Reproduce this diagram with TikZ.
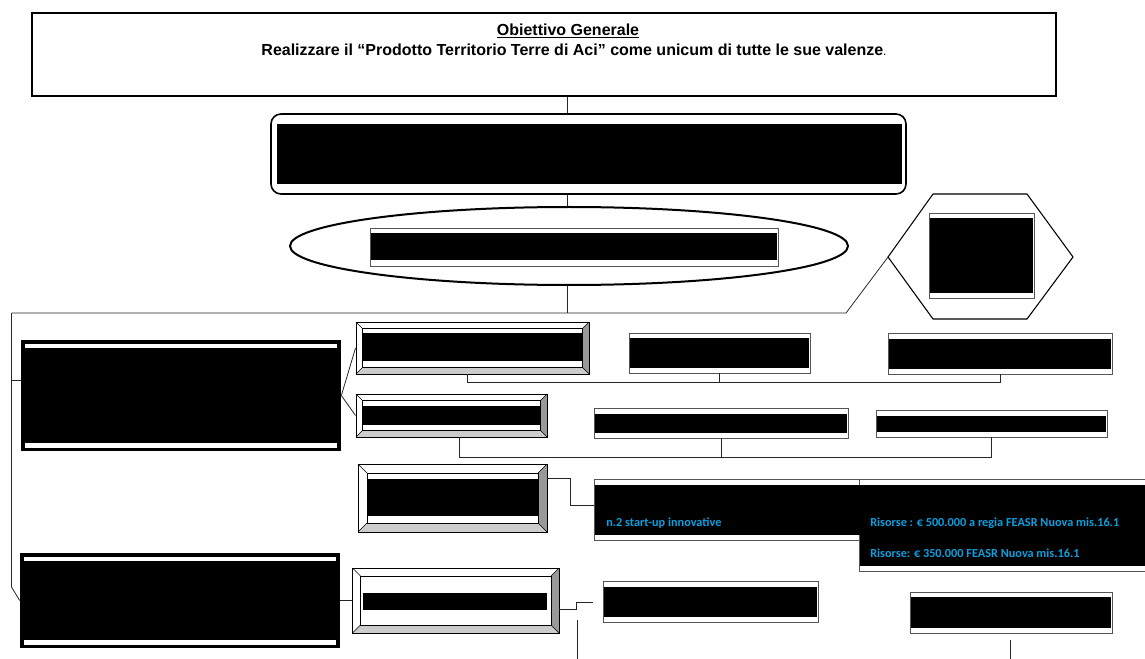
\documentclass[tikz,border=0pt]{standalone}
\usepackage{fontspec}
\setmainfont{Liberation Sans}
\newfontfamily\calibrifont{Carlito}
\usetikzlibrary{fit,shapes.geometric}
\definecolor{bluetxt}{HTML}{0AA0E0}
\definecolor{bevdark}{HTML}{999999}
\definecolor{bevlight}{HTML}{CCCCCC}
\definecolor{thinedge}{HTML}{555555}
\tikzset{
  thinbox/.style={draw=thinedge, line width=0.6pt, fill=white, inner sep=0pt},
  bevel/.style={draw=black, line width=0.7pt, inner sep=0pt},
  bigblack/.style={draw=black, fill=black, line width=2pt, inner sep=0pt},
  conn/.style={draw=black!85, line width=0.6pt},
  bluelabel/.style={anchor=west, inner sep=0pt, text=bluetxt, font=\calibrifont\bfseries\fontsize{9.2pt}{11pt}\selectfont},
}
% bevelled box: name, x1, y1, x2, y2, bevel
\newcommand\bevelbox[6]{%
  \fill[white] (#2,#3) rectangle (#4,#5);
  \fill[bevdark] (#4,#3) -- (#4,#5) -- (#4-#6,#5-#6) -- (#4-#6,#3+#6) -- cycle;
  \fill[bevlight] (#2,#5) -- (#4,#5) -- (#4-#6,#5-#6) -- (#2+#6,#5-#6) -- cycle;
  \draw[line width=0.5pt] (#2,#3) -- (#2+#6,#3+#6) (#4,#3) -- (#4-#6,#3+#6)
        (#2,#5) -- (#2+#6,#5-#6) (#4,#5) -- (#4-#6,#5-#6);
  \draw[line width=0.6pt] (#2+#6,#3+#6) rectangle (#4-#6,#5-#6);
  \node[bevel, fit={(#2,#3)(#4,#5)}] (#1) {};
}
% thin box with black band: name, x1, y1, x2, y2, band y1, band y2
\newcommand\stripebox[7]{%
  \node[thinbox, fit={(#2,#3)(#4,#5)}] (#1) {};
  \fill[black] (#2+0.7,#6) rectangle (#4-0.7,#7);
}
% thick black box with white stripes: name, x1, y1, x2, y2
\newcommand\blackbox[5]{%
  \node[bigblack, fit={(#2,#3)(#4,#5)}] (#1) {};
  \fill[white] (#2+3,#3+2.5) rectangle (#4-3,#3+6.5);
  \fill[white] (#2+3,#5-7) rectangle (#4-3,#5-2.5);
}
\begin{document}
\begin{tikzpicture}[x=0.75pt,y=-0.75pt]
\useasboundingbox (0,0) rectangle (1145,659);
\clip (0,0) rectangle (1145,659);

% ---- top objective box
\node[draw, line width=2pt, inner sep=0pt, fit={(32,13)(1056,96)}] (obj) {};
\node[font=\bfseries\fontsize{12pt}{14pt}\selectfont, inner sep=0pt] (t1) at (568,31) {\underline{Obiettivo Generale}};
\node[font=\bfseries\fontsize{12pt}{14pt}\selectfont, inner sep=0pt] (t2) at (574,50)
  {Realizzare il “Prodotto Territorio Terre di Aci” come unicum di tutte le sue valenze{\mdseries\fontsize{9pt}{10pt}\selectfont.}};

\coordinate (cx) at (567,0);

% ---- rounded box
\node[draw, line width=1.2pt, rounded corners=7.5pt, inner sep=0pt, fit={(271,114)(906,194)}] (rbox) {};
\fill[black] (277,124) rectangle (902,184);

% ---- ellipse
\node[draw, ellipse, line width=1.5pt, minimum width=418.5pt, minimum height=58.5pt, inner sep=0pt] (ell) at (569,246) {};
\stripebox{elb}{370}{228}{778}{266}{233}{260}

% ---- hexagon
\coordinate (hexL) at (888,257);
\draw[line width=0.8pt] (hexL) -- (933,194) -- (1027,194) -- (1073,257) -- (1027,319) -- (933,319) -- cycle;
\stripebox{hxb}{929}{213}{1034}{298}{218}{293}

% ---- left black boxes
\blackbox{L1}{22}{341}{340}{450}
\blackbox{L2}{21}{554}{339}{647}

% ---- bevelled boxes
\bevelbox{bv1}{356}{322}{589}{374}{6.5}
\fill[black] (363,333) rectangle (583,361);
\bevelbox{bv2}{356}{394}{547}{437}{6.5}
\fill[black] (363,406) rectangle (540,425);
\bevelbox{bv3}{358}{464}{547}{532}{9}
\fill[black] (368,479) rectangle (538,516);
\bevelbox{bv4}{352.5}{568}{559}{633}{8}
\fill[black] (363,593) rectangle (547,610);

% ---- thin striped boxes
\stripebox{bA}{629}{333}{810}{373}{338}{368}
\stripebox{bB}{888}{333}{1112}{374}{339}{369}
\stripebox{bC}{594}{408}{848}{438}{414}{433}
\stripebox{bD}{876}{410}{1107}{437}{416}{432}
\stripebox{bF}{859}{479}{1160}{571}{485}{566}
\stripebox{bE}{594}{479}{859}{540}{485}{535}
\fill[black] (840,485) rectangle (880,535);
\stripebox{bG}{603}{581}{818}{622}{587}{617}
\stripebox{bH}{910.5}{592}{1112}{633}{597}{628}

% ---- blue labels
\node[bluelabel] (lab1) at (606,523) {n.2 start-up innovative};
\node[bluelabel] (lab2) at (870,523) {Risorse : € 500.000 a regia FEASR Nuova mis.16.1};
\node[bluelabel] (lab3) at (870,553) {Risorse: € 350.000 FEASR Nuova mis.16.1};

% ---- connectors
\coordinate (bus) at (567,313);
\coordinate (busL) at (11.5,313);
\coordinate (busR) at (846,313);
\coordinate (kneeL) at (11.5,587);
\coordinate (tapL1) at (11.5,380);
\draw[conn] (obj.south -| cx) -- (rbox.north -| cx);
\draw[conn] (rbox.south -| cx) -- (ell.north -| cx);
\draw[conn] (ell.south -| cx) -- (bus);
\draw[conn] (busL) -- (busR) -- (hexL);
\draw[conn] (busL) -- (kneeL) -- (L2.west);
\draw[conn] (tapL1) -- (tapL1 -| L1.west);
\draw[conn] (L1.east) -- (bv1.west);
\draw[conn] (L1.east) -- (bv2.west);

\coordinate (b1) at (467,382);
\draw[conn] (bv1.south -| b1) -- (b1) -- (b1 -| bB.south) -- (bB.south);
\draw[conn] (bA.south) -- (bA.south |- b1);

\coordinate (b2) at (459,457);
\draw[conn] (bv2.south -| b2) -- (b2) -- (b2 -| bD.south) -- (bD.south);
\draw[conn] (bC.south) -- (bC.south |- b2);

\coordinate (k3a) at (570,478);
\coordinate (k3b) at (570,505);
\draw[conn] (bv3.east |- k3a) -- (k3a) -- (k3b) -- (k3b -| bE.west);

\draw[conn] (L2.east) -- (bv4.west);
\coordinate (k4a) at (576.6,609);
\coordinate (k4b) at (576.6,602);
\coordinate (k4c) at (593,602);
\draw[conn] (bv4.east |- k4a) -- (k4a) -- (k4b) -- (k4c);

\coordinate (f1a) at (577.4,620);
\coordinate (f1b) at (577.4,659);
\draw[conn] (f1a) -- (f1b);
\coordinate (f2a) at (1010,640);
\coordinate (f2b) at (1010,659);
\draw[conn] (f2a) -- (f2b);
\end{tikzpicture}
\end{document}
